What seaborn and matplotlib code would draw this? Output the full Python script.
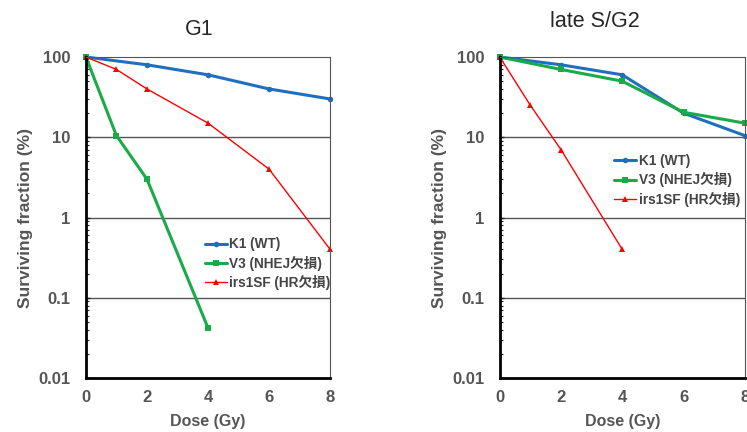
import numpy as np
import pandas as pd
import matplotlib
matplotlib.use('Agg')
import matplotlib.pyplot as plt
import seaborn as sns
from matplotlib.ticker import FixedLocator, LogLocator, NullFormatter

# Datos
panel_titles = ['G1', 'late S/G2']
series_names = ['K1 (WT)', 'V3 (NHEJ欠損)', 'irs1SF (HR欠損)']

g1_k1_dose = [0, 2, 4, 6, 8]
g1_k1_sf = [100, 80, 60, 40, 30]
g1_v3_dose = [0, 1, 2, 4]
g1_v3_sf = [100, 10.5, 3.0, 0.042]
g1_irs_dose = [0, 1, 2, 4, 6, 8]
g1_irs_sf = [100, 70, 40, 15, 4, 0.4]

sg2_k1_dose = [0, 2, 4, 6, 8]
sg2_k1_sf = [100, 80, 60, 20, 10.5]
sg2_v3_dose = [0, 2, 4, 6, 8]
sg2_v3_sf = [100, 70, 50, 20.5, 15]
sg2_irs_dose = [0, 1, 2, 4]
sg2_irs_sf = [100, 25, 7, 0.4]

colors = ['#1f6fc0', '#1aaa48', '#ff0000']
widths = [2.2, 2.2, 1.0]
markers = ['o', 's', '^']

sns.set_style('white')
plt.rcParams['font.family'] = ['Liberation Sans', 'Noto Sans CJK JP']
plt.rcParams['font.weight'] = 'bold'

panels = [
    [(g1_k1_dose, g1_k1_sf), (g1_v3_dose, g1_v3_sf), (g1_irs_dose, g1_irs_sf)],
    [(sg2_k1_dose, sg2_k1_sf), (sg2_v3_dose, sg2_v3_sf), (sg2_irs_dose, sg2_irs_sf)],
]

fig = plt.figure(figsize=(7.47, 4.32), dpi=100)
ax_pos = [[0.115, 0.125, 0.327, 0.743], [0.669, 0.125, 0.328, 0.743]]
legend_pos = [(0.465, 0.455), (0.445, 0.715)]
title_pos = [(0.267, 0.919), (0.797, 0.9375)]
gray = '#555555'

for i, data in enumerate(panels):
    ax = fig.add_axes(ax_pos[i])
    for j, (dose, sf) in enumerate(data):
        df = pd.DataFrame({'Dose': dose, 'SF': sf})
        sns.lineplot(data=df, x='Dose', y='SF', ax=ax, color=colors[j],
                     linewidth=widths[j], marker=markers[j], markersize=4,
                     markeredgewidth=0, label=series_names[j], clip_on=False)
    ax.set_yscale('log')
    ax.set_ylim(0.01, 100)
    ax.set_xlim(0, 8)
    ax.set_xticks([0, 2, 4, 6, 8])
    ax.yaxis.set_major_locator(FixedLocator([0.01, 0.1, 1, 10, 100]))
    ax.set_yticklabels(['0.01', '0.1', '1', '10', '100'])
    ax.yaxis.set_minor_locator(LogLocator(base=10, subs=np.arange(2, 10)))
    ax.yaxis.set_minor_formatter(NullFormatter())
    for yv in [0.1, 1, 10]:
        ax.axhline(yv, color=gray, linewidth=1, zorder=0)
    ax.spines['left'].set_linewidth(2)
    ax.spines['bottom'].set_linewidth(2)
    ax.spines['left'].set_color('black')
    ax.spines['bottom'].set_color('black')
    ax.spines['top'].set_linewidth(0.8)
    ax.spines['top'].set_color(gray)
    ax.spines['right'].set_linewidth(0.8)
    ax.spines['right'].set_color(gray)
    ax.tick_params(axis='both', which='major', labelsize=12, labelcolor=gray,
                   length=3, width=1, direction='in', left=True, bottom=False, pad=9)
    ax.tick_params(axis='y', which='minor', length=2, width=0.8, direction='in', left=True)
    ax.tick_params(axis='y', which='major', pad=11)
    for lbl in ax.get_xticklabels() + ax.get_yticklabels():
        lbl.set_fontweight('bold')
    ax.set_xlabel('Dose (Gy)', fontsize=11.5, color=gray, fontweight='bold', labelpad=6)
    ax.set_ylabel('Surviving fraction (%)', fontsize=12.5, color=gray, fontweight='bold', labelpad=4)
    fig.text(title_pos[i][0], title_pos[i][1], panel_titles[i], fontsize=15.5,
             fontweight='normal', ha='center', va='baseline')
    leg = ax.legend(loc='upper left', bbox_to_anchor=legend_pos[i], frameon=False,
                    fontsize=9.8, handlelength=1.6, handletextpad=0.2,
                    labelspacing=0.32, borderaxespad=0)
    for t in leg.get_texts():
        t.set_color('#444444')
        t.set_fontweight('bold')

plt.savefig('out.png', dpi=100)
